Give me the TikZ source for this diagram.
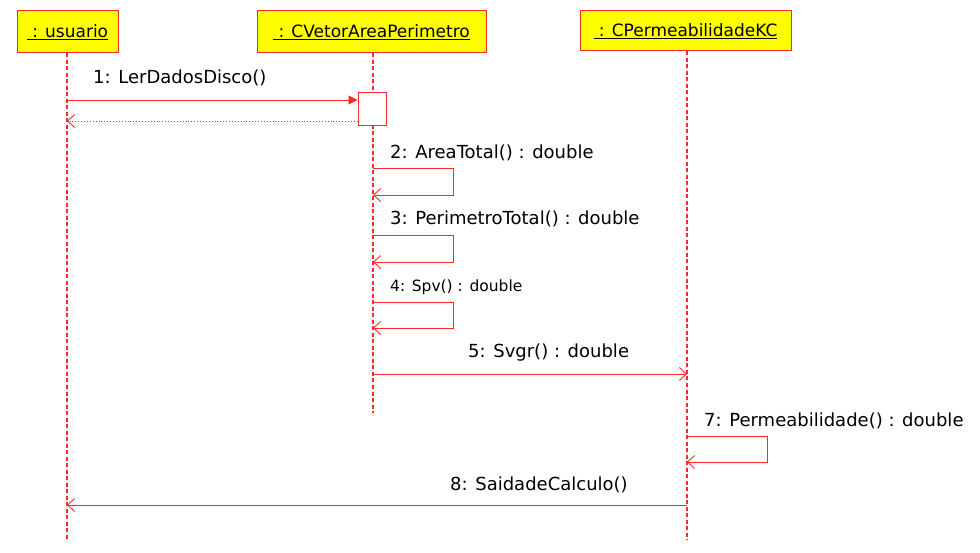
\documentclass[tikz,border=0pt]{standalone}
\usepackage{fontspec}
\setmainfont{DejaVu Sans}
\usetikzlibrary{arrows.meta}
\definecolor{umlred}{RGB}{255,40,40}
\definecolor{umlyellow}{RGB}{255,255,0}
\tikzset{
  objbox/.style={draw=umlred, line width=1pt, fill=umlyellow, minimum height=42pt, inner sep=0pt, font=\fontsize{17}{20}\selectfont},
  lifeline/.style={color=umlred, line width=1.2pt, dash pattern=on 4pt off 2.5pt},
  msg/.style={draw=umlred, line width=0.9pt, -{Straight Barb[length=7pt,width=13pt,line width=0.9pt]}},
  callmsg/.style={draw=umlred, line width=0.9pt, -{Triangle[length=9pt,width=9pt]}},
  retmsg/.style={draw=umlred, line width=0.9pt, dotted, -{Straight Barb[length=7pt,width=13pt,line width=0.9pt]}},
  lbl/.style={anchor=west, inner sep=0pt, font=\fontsize{18}{20}\selectfont},
  smalllbl/.style={anchor=west, inner sep=0pt, font=\fontsize{15.5}{18}\selectfont},
  actbox/.style={draw=umlred, line width=1pt, fill=white, minimum width=28pt, minimum height=33pt, inner sep=0pt}
}
\begin{document}
\begin{tikzpicture}[x=1pt,y=-1pt]
\useasboundingbox (0,0) rectangle (980,553);
% objects
\node[objbox, minimum width=101pt] (usr) at (67.5,32) {\underline{\ : usuario}};
\node[objbox, minimum width=229pt] (vet) at (371.5,32) {\underline{\ : CVetorAreaPerimetro}};
\node[objbox, minimum width=211pt, minimum height=40pt] (perm) at (685.5,31) {\underline{\ : CPermeabilidadeKC}};
% lifeline ends
\coordinate (usrE) at (67,540);
\coordinate (vetE) at (373,413);
\coordinate (permE) at (687,540);
\draw[lifeline] (usr.south -| usrE) -- (usrE);
\draw[lifeline] (vet.south -| vetE) -- (vetE);
\draw[lifeline] (perm.south -| permE) -- (permE);
% activation
\node[actbox] (act) at (372,109.5) {};
% message 1
\coordinate (m1s) at (67,100);
\draw[callmsg] (m1s) -- (m1s -| act.west);
\node[lbl] (l1) at (93,78) {1: LerDadosDisco()};
\coordinate (r1e) at (67,121);
\draw[retmsg] (r1e -| act.west) -- (r1e);
% self messages on vet
\coordinate (s2a) at (373,168); \coordinate (s2b) at (453,168);
\coordinate (s2c) at (453,195); \coordinate (s2d) at (373,195);
\draw[msg] (s2a) -- (s2b) -- (s2c) -- (s2d);
\node[lbl] (l2) at (390,153) {2: AreaTotal() : double};
\coordinate (s3a) at (373,235); \coordinate (s3b) at (453,235);
\coordinate (s3c) at (453,262); \coordinate (s3d) at (373,262);
\draw[msg] (s3a) -- (s3b) -- (s3c) -- (s3d);
\node[lbl] (l3) at (390,219) {3: PerimetroTotal() : double};
\coordinate (s4a) at (373,302); \coordinate (s4b) at (453,302);
\coordinate (s4c) at (453,328); \coordinate (s4d) at (373,328);
\draw[msg] (s4a) -- (s4b) -- (s4c) -- (s4d);
\node[smalllbl] (l4) at (390,287) {4: Spv() : double};
% message 5
\coordinate (m5s) at (373,374);
\draw[msg] (m5s) -- (m5s -| permE);
\node[lbl] (l5) at (468,353) {5: Svgr() : double};
% message 7
\coordinate (s7a) at (687,436); \coordinate (s7b) at (767,436);
\coordinate (s7c) at (767,462); \coordinate (s7d) at (687,462);
\draw[msg] (s7a) -- (s7b) -- (s7c) -- (s7d);
\node[lbl] (l7) at (704,421) {7: Permeabilidade() : double};
% message 8
\coordinate (m8s) at (687,505);
\draw[msg] (m8s) -- (m8s -| usrE);
\node[lbl] (l8) at (450,485) {8: SaidadeCalculo()};
\end{tikzpicture}
\end{document}
